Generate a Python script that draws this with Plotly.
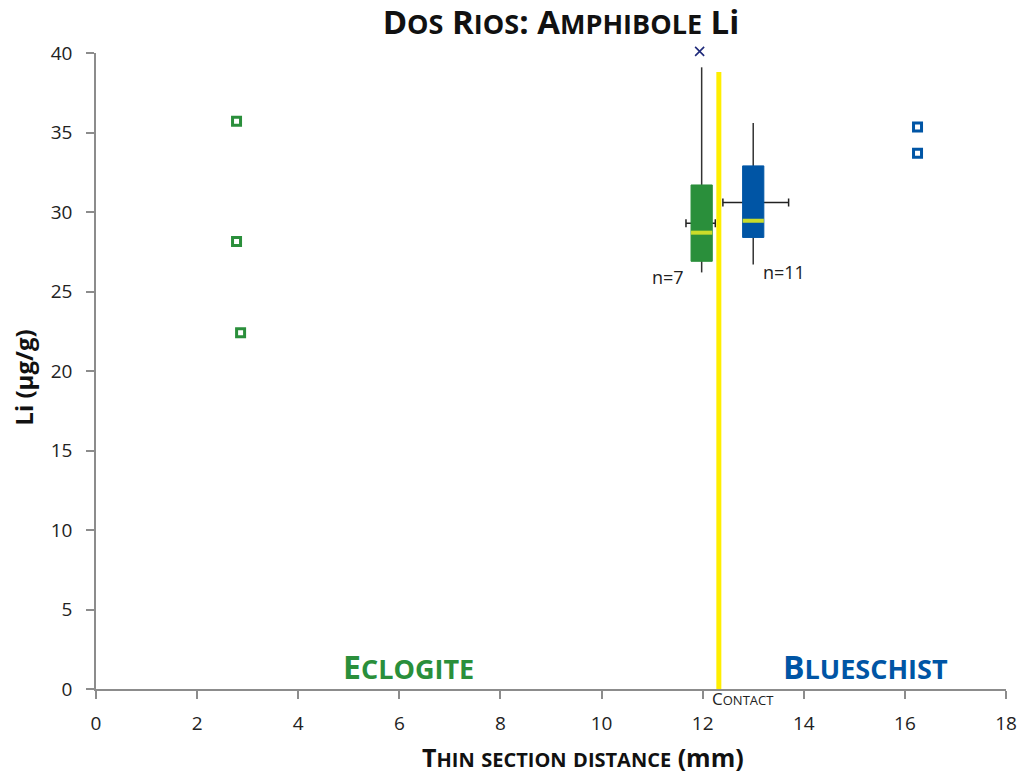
import plotly.graph_objects as go

# ---- data ----
ecl_x = [2.78, 2.78, 2.86]
ecl_y = [35.7, 28.15, 22.4]
blu_x = [16.25, 16.25]
blu_y = [35.35, 33.7]

box_names = ["Eclogite", "Blueschist"]
box_x = [11.98, 13.0]
box_q1 = [26.9, 28.4]
box_med = [28.7, 29.45]
box_q3 = [31.7, 32.9]
box_lo = [26.2, 26.7]
box_hi = [39.1, 35.6]
mean_x = [11.96, 13.05]
mean_xerr = [0.29, 0.65]
mean_y = [29.3, 30.6]
n_labels = ["n=7", "n=11"]
outlier_x = [11.94]
outlier_y = [40.1]
contact_x = [12.32, 12.32]
contact_y = [0, 38.8]
y_range = [0, 40]
x_range = [0, 18]

GREEN = "#2a8f3b"
BLUE = "#0055a5"
MED = "#cadc2a"
YEL = "#ffee00"
HW = 0.21
TF = "Open Sans"

# layout geometry (pixels)
LEFT, RIGHT, PLOT_TOP, BOTTOM, PAPER_TOP = 96, 1014, 53, 689, 40
W_PLOT = RIGHT - LEFT
H_PAPER = BOTTOM - PAPER_TOP
Y_DOMAIN_TOP = (BOTTOM - PLOT_TOP) / H_PAPER


def sc(text, small):
    # small caps emulation: lowercase letters rendered as smaller capitals
    out = ""
    for ch in text:
        if ch.islower():
            out += "<span style='font-size:%dpx'>%s</span>" % (small, ch.upper())
        else:
            out += ch
    return out


fig = go.Figure()
colors = [GREEN, BLUE]

# horizontal error bars (behind boxes)
for i in range(2):
    fig.add_trace(go.Scatter(
        x=[mean_x[i]], y=[mean_y[i]], mode="markers",
        marker=dict(size=1, opacity=0),
        error_x=dict(type="data", array=[mean_xerr[i]], color="#222222", thickness=1.5, width=4),
        showlegend=False, hoverinfo="skip"))
# whiskers
for i in range(2):
    fig.add_trace(go.Scatter(
        x=[box_x[i], box_x[i]], y=[box_lo[i], box_hi[i]], mode="lines",
        line=dict(color="#333333", width=1.5), showlegend=False, hoverinfo="skip"))
# boxes + medians
for i in range(2):
    x0, x1 = box_x[i] - HW, box_x[i] + HW
    fig.add_trace(go.Scatter(
        x=[x0, x1, x1, x0, x0], y=[box_q1[i], box_q1[i], box_q3[i], box_q3[i], box_q1[i]],
        mode="lines", fill="toself", fillcolor=colors[i],
        line=dict(color=colors[i], width=1), name=box_names[i], showlegend=False))
    fig.add_trace(go.Scatter(
        x=[x0, x1], y=[box_med[i], box_med[i]], mode="lines",
        line=dict(color=MED, width=4), showlegend=False, hoverinfo="skip"))
# contact line
fig.add_trace(go.Scatter(x=contact_x, y=contact_y, mode="lines",
                         line=dict(color=YEL, width=5), showlegend=False, hoverinfo="skip"))
# outlier (on an invisible y-axis with the same scale that extends above the plot top)
fig.add_trace(go.Scatter(x=outlier_x, y=outlier_y, mode="markers", yaxis="y2", cliponaxis=False,
                         marker=dict(symbol="x-thin", size=9, color="#1f2a7a",
                                     line=dict(color="#1f2a7a", width=1.6)),
                         showlegend=False))
# points
fig.add_trace(go.Scatter(x=ecl_x, y=ecl_y, mode="markers",
                         marker=dict(symbol="square-open", size=8, color=GREEN,
                                     line=dict(color=GREEN, width=3)),
                         showlegend=False))
fig.add_trace(go.Scatter(x=blu_x, y=blu_y, mode="markers",
                         marker=dict(symbol="square-open", size=8, color=BLUE,
                                     line=dict(color=BLUE, width=3)),
                         showlegend=False))

C = dict(xanchor="center", yanchor="middle", showarrow=False)

fig.add_annotation(x=11.31, y=25.9, xref="x", yref="y", text=n_labels[0], **C,
                   font=dict(family="Open Sans", size=18, color="#222"))
fig.add_annotation(x=13.6, y=26.2, xref="x", yref="y", text=n_labels[1], **C,
                   font=dict(family="Open Sans", size=18, color="#222"))
fig.add_annotation(x=6.18, y=1.4, xref="x", yref="y", text="<b>" + sc("Eclogite", 27) + "</b>", **C,
                   font=dict(family=TF, size=32, color=GREEN))
fig.add_annotation(x=15.22, y=1.4, xref="x", yref="y", text="<b>" + sc("Blueschist", 27) + "</b>", **C,
                   font=dict(family=TF, size=32, color=BLUE))
fig.add_annotation(x=12.8, y=-(698 - BOTTOM) / H_PAPER, xref="x", yref="paper", text=sc("Contact", 13), **C,
                   font=dict(family=TF, size=17, color="#222"))
fig.add_annotation(x=(587 - LEFT) / W_PLOT, y=-(757 - BOTTOM) / H_PAPER, xref="paper", yref="paper",
                   text="<b>" + sc("Thin section distance", 20) + " (mm)</b>", **C,
                   font=dict(family=TF, size=25, color="#111"))
fig.add_annotation(x=-(LEFT - 22) / W_PLOT, y=(BOTTOM - 378) / H_PAPER, xref="paper", yref="paper",
                   text="<b>Li (µg/g)</b>", textangle=-90, **C,
                   font=dict(family=TF, size=24, color="#111"))

fig.update_layout(
    width=1029, height=774,
    margin=dict(l=LEFT, r=1029 - RIGHT, t=PAPER_TOP, b=774 - BOTTOM),
    plot_bgcolor="rgba(0,0,0,0)", paper_bgcolor="white",
    title=dict(text="<b>" + sc("Dos Rios: Amphibole", 27) + " Li</b>",
               x=561 / 1029, xanchor="center", y=1 - 22 / 774, yanchor="middle",
               font=dict(family=TF, size=33, color="#111")),
    xaxis=dict(range=x_range, dtick=2, showgrid=False, zeroline=False, showline=True,
               linecolor="#8c8c8c", linewidth=1.5, ticks="outside", ticklen=8, tickcolor="#8c8c8c",
               tickwidth=1.5, ticklabelstandoff=8,
               tickfont=dict(family="Open Sans", size=19, color="#222")),
    yaxis=dict(range=y_range, domain=[0, Y_DOMAIN_TOP], dtick=5, showgrid=False, zeroline=False,
               showline=True, linecolor="#8c8c8c", linewidth=1.5, ticks="outside", ticklen=8,
               tickcolor="#8c8c8c", tickwidth=1.5, ticklabelstandoff=10,
               tickfont=dict(family="Open Sans", size=19, color="#222")),
    yaxis2=dict(range=[y_range[0], y_range[0] + (y_range[1] - y_range[0]) / Y_DOMAIN_TOP],
                domain=[0, 1], anchor="x", visible=False, showgrid=False, zeroline=False),
)

fig.write_html("out.html")
